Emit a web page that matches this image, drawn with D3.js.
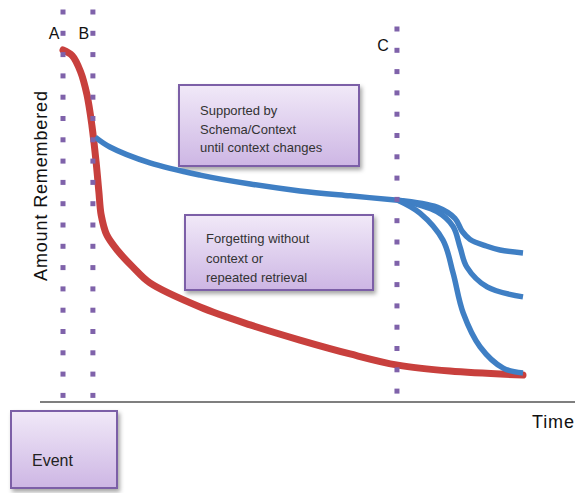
<!DOCTYPE html>
<html>
<head>
<meta charset="utf-8">
<script src="https://cdn.jsdelivr.net/npm/d3@7"></script>
<style>
  body { margin: 0; background: #fff; }
  text { font-family: "Liberation Sans", Arial, sans-serif; }
</style>
</head>
<body>
<div id="wrapper"></div>
<script>
// time runs 0..100 (A at 0), amount runs 0..100
const redCurve = [
  [0, 100], [2, 98.3], [3.8, 93.5], [5.2, 86.5], [6.3, 77], [7.2, 66], [7.8, 57], [8.3, 50],
  [9.5, 44], [12, 39], [15.2, 34.2], [18.9, 29.4], [29.8, 22.1], [40.7, 16.7], [51.5, 12.1],
  [62.4, 7.9], [72.8, 4.5], [84.1, 2.7], [100, 1.5]
];
const blueMain = [
  [7, 73.6], [10.2, 70.6], [18.9, 65.8], [29.8, 62.1], [40.7, 59.4], [51.5, 57.3],
  [62.4, 55.8], [72.8, 54.5]
];
const blueUpper = [
  [72.8, 54.5], [81.3, 52.4], [85.2, 49], [86.8, 45], [88.5, 42.6], [92, 40.6], [95, 39.4], [100, 38.5]
];
const blueMiddle = [
  [72.8, 54.5], [81.3, 51], [84.8, 46.5], [86.3, 40.3], [87.8, 34.2], [92.2, 28.2], [100, 25.2]
];
const blueLower = [
  [72.8, 54.5], [77.6, 50.6], [82.6, 42.4], [84.8, 32.4], [87, 20.3], [90.7, 10], [95.7, 3.6], [100, 2.1]
];
const markers = [
  {name: "A", t: 0}, {name: "B", t: 6.5}, {name: "C", t: 72.6}
];
const notes = [
  ["Supported by", "Schema/Context", "until context changes"],
  ["Forgetting without", "context or", "repeated retrieval"]
];

const width = 581, height = 493;
const x = d3.scaleLinear().domain([0, 100]).range([63, 523]);
const y = d3.scaleLinear().domain([0, 100]).range([380, 50]);

const svg = d3.select("#wrapper").append("svg")
  .attr("width", width).attr("height", height);

const defs = svg.append("defs");
const grad = defs.append("linearGradient").attr("id", "boxfill")
  .attr("x1", 0).attr("y1", 0).attr("x2", 0).attr("y2", 1);
grad.append("stop").attr("offset", "0%").attr("stop-color", "#f1e9f8");
grad.append("stop").attr("offset", "100%").attr("stop-color", "#cdb6e4");
const shadow = defs.append("filter").attr("id", "shadow")
  .attr("x", "-10%").attr("y", "-10%").attr("width", "130%").attr("height", "140%");
shadow.append("feDropShadow").attr("dx", 2).attr("dy", 3).attr("stdDeviation", 2)
  .attr("flood-color", "#000").attr("flood-opacity", 0.35);

// time axis
svg.append("line")
  .attr("x1", 40).attr("x2", 575).attr("y1", 402).attr("y2", 402)
  .attr("stroke", "#555").attr("stroke-width", 1.5);

svg.append("text").attr("x", 532).attr("y", 428)
  .attr("textLength", 42)
  .style("font-size", "18px").attr("fill", "#111").text("Time");

svg.append("text")
  .attr("transform", "translate(47,186) rotate(-90)")
  .attr("text-anchor", "middle")
  .attr("textLength", 190)
  .style("font-size", "18px").attr("fill", "#111")
  .text("Amount Remembered");

// note boxes
const boxes = [
  {x: 179, y: 85, w: 180, h: 81, lines: notes[0]},
  {x: 185, y: 215, w: 188, h: 75, lines: notes[1]}
];
boxes.forEach(b => {
  svg.append("rect")
    .attr("x", b.x).attr("y", b.y).attr("width", b.w).attr("height", b.h)
    .attr("fill", "url(#boxfill)").attr("stroke", "#7b5ea7").attr("stroke-width", 2)
    .attr("filter", "url(#shadow)");
});
svg.append("text").attr("x", 200).attr("y", 115)
  .style("font-size", "13px").attr("fill", "#333")
  .selectAll("tspan").data(notes[0]).join("tspan")
  .attr("x", 200).attr("dy", (d, i) => i ? 18.5 : 0).text(d => d);
svg.append("text").attr("x", 206).attr("y", 243)
  .style("font-size", "13px").attr("fill", "#333")
  .selectAll("tspan").data(notes[1]).join("tspan")
  .attr("x", 206).attr("dy", (d, i) => i ? 19.5 : 0).text(d => d);

// event box
svg.append("rect")
  .attr("x", 11).attr("y", 411).attr("width", 106).attr("height", 77)
  .attr("fill", "url(#boxfill)").attr("stroke", "#7b5ea7").attr("stroke-width", 2)
  .attr("filter", "url(#shadow)");
svg.append("text").attr("x", 32).attr("y", 466)
  .style("font-size", "16px").attr("fill", "#222").text("Event");

// curves
const line = d3.line()
  .x(d => x(d[0])).y(d => y(d[1]))
  .curve(d3.curveCatmullRom.alpha(0.5));

svg.append("path").datum(redCurve)
  .attr("d", line).attr("fill", "none")
  .attr("stroke", "#c8403d").attr("stroke-width", 7).attr("stroke-linecap", "round");

[blueMain, blueUpper, blueMiddle, blueLower].forEach(s => {
  svg.append("path").datum(s)
    .attr("d", line).attr("fill", "none")
    .attr("stroke", "#3f7fc4").attr("stroke-width", 5.5).attr("stroke-linecap", "butt");
});

// dotted markers
const dotSpacing = 21.3;
markers.forEach(m => {
  const top = m.name == "C" ? 29 : 12;
  const bottom = m.name == "C" ? 392 : 396;
  const ys = d3.range(top, bottom, dotSpacing);
  svg.selectAll(null).data(ys).join("rect")
    .attr("x", x(m.t) - 2.5).attr("y", d => d - 2.5)
    .attr("width", 5).attr("height", 5)
    .attr("fill", "#7f62aa");
});

svg.selectAll(null).data(markers).join("text")
  .attr("x", d => d.name == "C" ? x(d.t) - 14 : x(d.t) - 9)
  .attr("y", d => d.name == "C" ? 51 : 39)
  .attr("text-anchor", "middle")
  .style("font-size", "16px").attr("fill", "#111")
  .text(d => d.name);
</script>
</body>
</html>
